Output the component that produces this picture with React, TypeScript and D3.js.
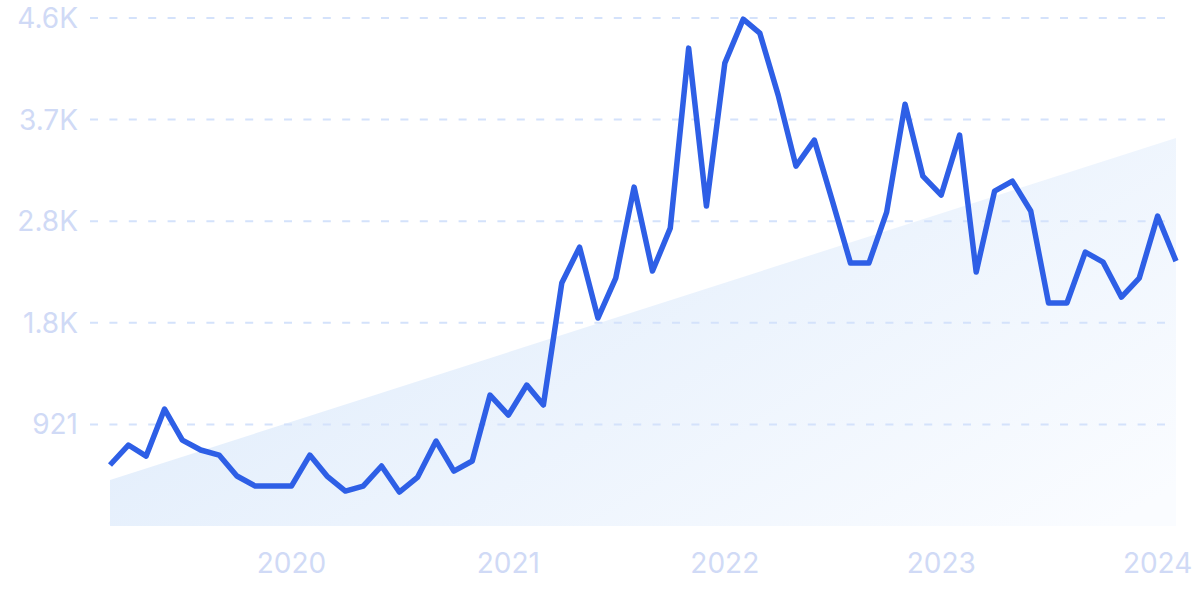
import React from "react";
import * as d3 from "d3";

const startMonth = "2019-03";
const values: number[] = [
  553, 734, 634, 1060, 779, 689, 643, 453, 362, 362,
  362, 643, 453, 317, 362, 544, 308, 444, 770, 498,
  589, 1187, 1006, 1278, 1097, 2202, 2528, 1885, 2247, 3072,
  2311, 2700, 4332, 2900, 4196, 4594, 4468, 3906, 3262, 3498,
  2954, 2383, 2383, 2845, 3824, 3172, 3000, 3543, 2302, 3036,
  3126, 2855, 2021, 2021, 2483, 2392, 2075, 2247, 2809, 2401,
];
const trendStart = 417;
const trendEnd = 3517;
const yMax = 4605;
const yTickLabels = ["921", "1.8K", "2.8K", "3.7K", "4.6K"];
const xTickYears = [2020, 2021, 2022, 2023, 2024];

const W = 1200;
const H = 599;

export default function App() {
  const parse = d3.timeParse("%Y-%m");
  const start = parse(startMonth) as Date;
  const dates = values.map((_, i) => d3.timeMonth.offset(start, i));
  const data = values.map((v, i) => ({ date: dates[i], value: v }));

  const x = d3
    .scaleTime()
    .domain([dates[0], dates[dates.length - 1]])
    .range([110, 1176]);
  const y = d3.scaleLinear().domain([0, yMax]).range([526, 18]);

  const yTicks = yTickLabels.map((lab, i) => ({ v: (yMax * (i + 1)) / 5, lab }));

  const line = d3
    .line<{ date: Date; value: number }>()
    .x((d) => x(d.date))
    .y((d) => y(d.value));

  const trendData = [
    { date: dates[0], value: trendStart },
    { date: dates[dates.length - 1], value: trendEnd },
  ];
  const area = d3
    .area<{ date: Date; value: number }>()
    .x((d) => x(d.date))
    .y0(y(0))
    .y1((d) => y(d.value));

  const labelColor = "#d0daf6";
  const font = "Inter, 'Noto Sans', sans-serif";

  return (
    <div style={{ position: "fixed", left: 0, top: 0, width: W, height: H, background: "#fff" }}>
      <svg width={W} height={H} style={{ display: "block" }}>
        <defs>
          <linearGradient id="trendGrad" x1="0" y1="0.3" x2="1" y2="0.9">
            <stop offset="0" stopColor="#deebfb" />
            <stop offset="1" stopColor="#fafcff" />
          </linearGradient>
        </defs>
        <path d={area(trendData) || ""} fill="url(#trendGrad)" />
        {yTicks.map((t) => (
          <g key={t.lab}>
            <line
              x1={90}
              x2={1170}
              y1={y(t.v)}
              y2={y(t.v)}
              stroke="#d4e2fb"
              strokeWidth={2}
              strokeDasharray="8 11.4"
            />
            <text
              x={78}
              y={y(t.v)}
              dy="0.36em"
              textAnchor="end"
              fill={labelColor}
              fontFamily={font}
              fontSize={28}
            >
              {t.lab}
            </text>
          </g>
        ))}
        {xTickYears.map((yr) => (
          <text
            key={yr}
            x={x(new Date(yr, 0, 1))}
            y={573}
            textAnchor="middle"
            fill={labelColor}
            fontFamily={font}
            fontSize={28}
          >
            {yr}
          </text>
        ))}
        <path
          d={line(data) || ""}
          fill="none"
          stroke="#2e5fe6"
          strokeWidth={5.5}
          strokeLinejoin="round"
        />
      </svg>
    </div>
  );
}
